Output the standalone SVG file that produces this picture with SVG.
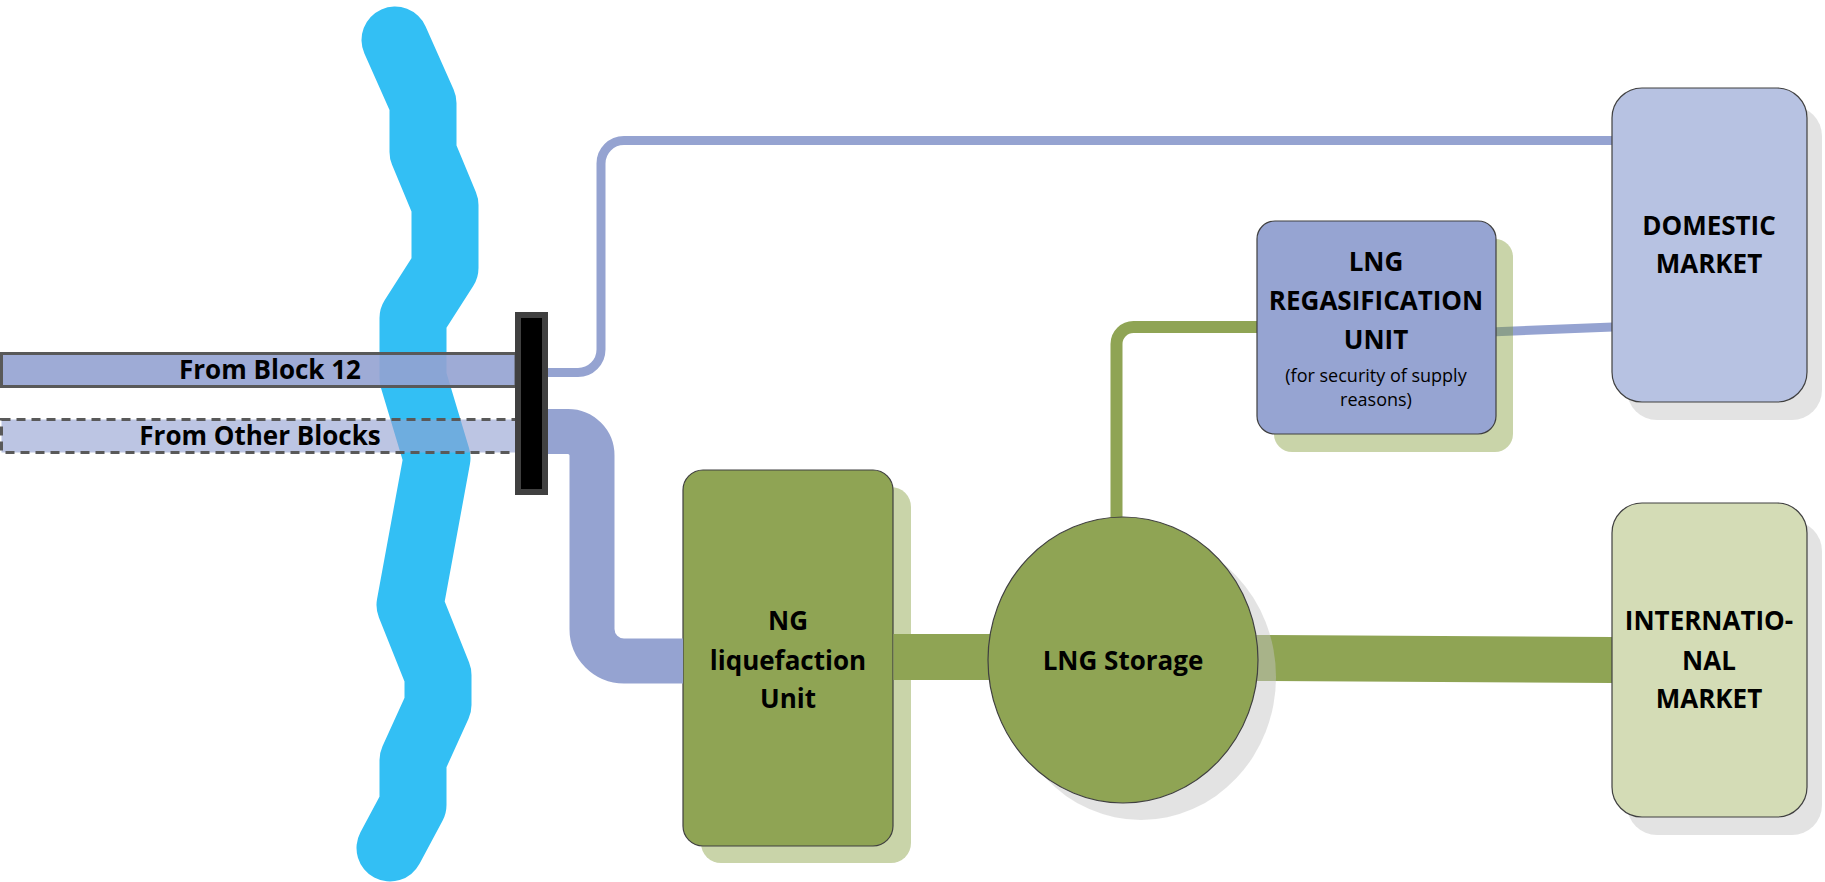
<svg xmlns="http://www.w3.org/2000/svg" width="1825" height="882" viewBox="0 0 1825 882">
<style>
.t{font-family:"Open Sans","Liberation Sans",sans-serif;font-weight:700;font-size:26px;fill:#000;text-anchor:middle}
.s{font-family:"Open Sans","Liberation Sans",sans-serif;font-weight:400;font-size:18px;fill:#000;text-anchor:middle}
.box{stroke:#404040;stroke-width:1.2}
.shg{fill:#C5C5C5;opacity:0.48}
.shgr{fill:#7D9730;opacity:0.415}
.blue{fill:none;stroke:#95A3D1;stroke-linecap:butt}
.green{fill:none;stroke:#8FA454;stroke-linecap:butt}
</style>
<rect width="1825" height="882" fill="#fff"/>
<g id="river">
<polyline points="395,40 423,103 423,152 445,205 445,268 413,318 413,378 437,458 410,605 438,675 438,705 413,760 413,805 390,848" fill="none" stroke="#33BFF4" stroke-width="67" stroke-linejoin="round" stroke-linecap="round"/>
</g>
<g id="from-block-12">
<rect x="1.5" y="353.5" width="514.5" height="33" fill="#93A2D2" fill-opacity="0.9" stroke="#595959" stroke-width="3"/>
<text class="t" x="270" y="379">From Block 12</text>
</g>
<g id="from-other-blocks">
<rect x="1.5" y="419.5" width="515" height="33" fill="#93A2D2" fill-opacity="0.62" stroke="#595959" stroke-width="3" stroke-dasharray="9,6"/>
<text class="t" x="260" y="445">From Other Blocks</text>
</g>
<g id="ng-liquefaction">
<rect x="701" y="487" width="210" height="376" rx="20" fill="#C9D4A9"/>
<rect class="box" x="683" y="470" width="210" height="376" rx="20" fill="#8FA454"/>
<text class="t" x="788" y="630">NG</text>
<text class="t" x="788" y="670">liquefaction</text>
<text class="t" x="788" y="708">Unit</text>
</g>
<g id="connectors">
<path class="blue" stroke-width="9" d="M547,372.5 H578 A23,23 0 0 0 601,349.5 V163.5 A23,23 0 0 1 624,140.5 H1613"/>
<path class="blue" stroke-width="45" d="M547,431.5 H568 A24,24 0 0 1 592,455.5 V629 A32,32 0 0 0 624,661 H683"/>
<path class="blue" stroke-width="9" d="M1490,332 L1613,327"/>
<path class="green" stroke-width="12" d="M1116.5,525 V344 A17,17 0 0 1 1133.5,327 H1258"/>
<path class="green" stroke-width="46" d="M893.5,657 H992"/>
<path class="green" stroke-width="46" d="M1250,658 L1613,660"/>
</g>
<g id="manifold">
<rect x="518" y="315" width="27" height="177" fill="#000" stroke="#404040" stroke-width="6"/>
</g>
<g id="lng-storage">
<ellipse class="shg" cx="1141" cy="677" rx="135" ry="143"/>
<ellipse class="box" cx="1123" cy="660" rx="135" ry="143" fill="#8FA454"/>
<text class="t" x="1123" y="670">LNG Storage</text>
</g>
<g id="lng-regasification">
<rect class="shgr" x="1274" y="239" width="239" height="213" rx="18"/>
<rect class="box" x="1257" y="221" width="239" height="213" rx="18" fill="#96A4D2"/>
<text class="t" x="1376" y="271">LNG</text>
<text class="t" x="1376" y="310">REGASIFICATION</text>
<text class="t" x="1376" y="349">UNIT</text>
<text class="s" x="1376" y="382">(for security of supply</text>
<text class="s" x="1376" y="406">reasons)</text>
</g>
<g id="domestic-market">
<rect class="shg" x="1627" y="106" width="195" height="314" rx="30"/>
<rect class="box" x="1612" y="88" width="195" height="314" rx="30" fill="#B7C2E2"/>
<text class="t" x="1709" y="235">DOMESTIC</text>
<text class="t" x="1709" y="273">MARKET</text>
</g>
<g id="international-market">
<rect class="shg" x="1627" y="521" width="195" height="314" rx="30"/>
<rect class="box" x="1612" y="503" width="195" height="314" rx="30" fill="#D4DCB6"/>
<text class="t" x="1709" y="630">INTERNATIO-</text>
<text class="t" x="1709" y="670">NAL</text>
<text class="t" x="1709" y="708">MARKET</text>
</g>
</svg>
